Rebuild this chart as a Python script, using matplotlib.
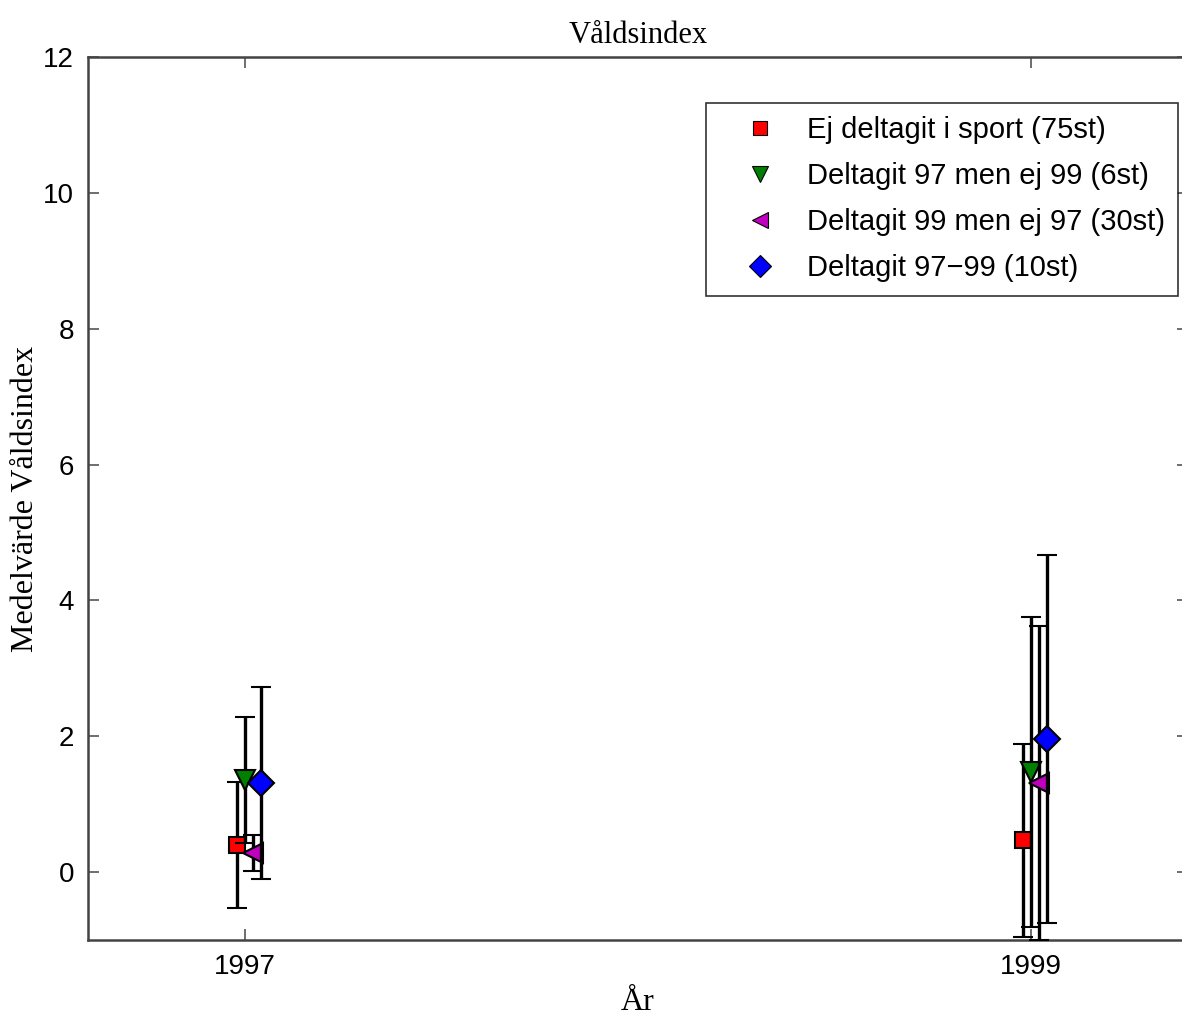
import matplotlib.pyplot as plt
from matplotlib.lines import Line2D

# values
years = [1997, 1999]
offsets = [-0.02, 0.0, 0.02, 0.04]
group_labels = [
    "Ej deltagit i sport (75st)",
    "Deltagit 97 men ej 99 (6st)",
    "Deltagit 99 men ej 97 (30st)",
    "Deltagit 97\u221299 (10st)",
]
means_ej = [0.40, 0.47]
err_ej = [0.93, 1.42]
means_97 = [1.36, 1.47]
err_97 = [0.93, 2.28]
means_99 = [0.28, 1.31]
err_99 = [0.27, 2.31]
means_9799 = [1.31, 1.96]
err_9799 = [1.41, 2.71]

markers = ["s", "v", "<", "D"]
colors = ["#ff0000", "#007f00", "#bf00bf", "#0000ff"]
sizes = [12, 14, 14, 13]

SERIF = "Liberation Serif"
SANS = "Liberation Sans"

fig = plt.figure(figsize=(11.82, 10.18), dpi=100)
ax = fig.add_axes([88 / 1182, 1 - 940 / 1018, (1188 - 88) / 1182, (940 - 57) / 1018])

series = [(means_ej, err_ej), (means_97, err_97), (means_99, err_99), (means_9799, err_9799)]
for i, (m, e) in enumerate(series):
    xs = [y + offsets[i] for y in years]
    ax.errorbar(xs, m, yerr=e, fmt=markers[i], color="black", ecolor="black",
                elinewidth=2.4, capsize=7, capthick=2.4,
                markerfacecolor=colors[i], markeredgecolor="black",
                markeredgewidth=1.5, markersize=sizes[i], zorder=3 + i)

ax.set_xlim(1996.6, 1999.4)
ax.set_ylim(-1, 12)
ax.set_xticks(years)
ax.set_yticks(range(0, 13, 2))
ax.tick_params(direction="in", length=8, width=1.2, top=True, right=True,
               labelsize=20, color="#555555", pad=10)
for lab in ax.get_xticklabels() + ax.get_yticklabels():
    lab.set_family(SANS)
for s in ax.spines.values():
    s.set_linewidth(1.8)
    s.set_color("#444444")

ax.set_title("V\u00e5ldsindex", family=SERIF, fontsize=22, pad=10)
ax.set_xlabel("\u00c5r", family=SERIF, fontsize=23, labelpad=6)
ax.set_ylabel("Medelv\u00e4rde V\u00e5ldsindex", family=SERIF, fontsize=23)
ax.yaxis.set_label_coords((40 - 88) / 1100, 0.5)

handles = [Line2D([], [], linestyle="none", marker=markers[i], markersize=[10, 12, 12, 11][i],
                  markerfacecolor=colors[i], markeredgecolor="black", markeredgewidth=0.8)
           for i in range(4)]
leg = ax.legend(handles, group_labels, loc="upper right",
                bbox_to_anchor=((1178 - 88) / (1188 - 88), 1 - 46 / 883),
                prop={"family": SANS, "size": 21}, frameon=True, fancybox=False,
                edgecolor="black", handlelength=2.8, handletextpad=0.2,
                borderpad=0.45, labelspacing=0.62, borderaxespad=0)
leg.get_frame().set_linewidth(1.2)

fig.savefig("out.png", dpi=100)
